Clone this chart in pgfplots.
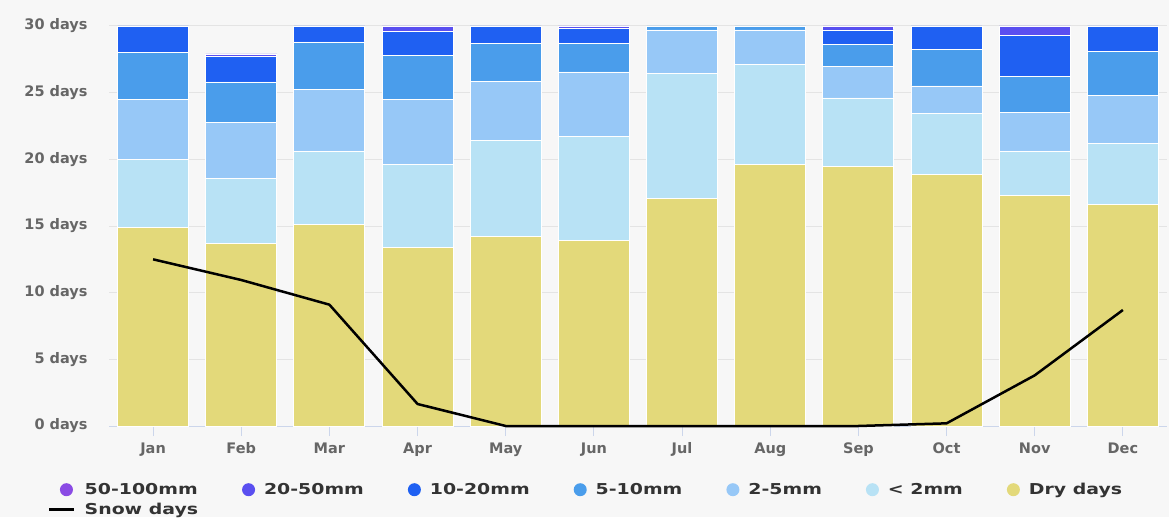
\documentclass[border=0pt]{standalone}
\usepackage{pgfplots}
\usepackage{pgfplotstable}
\pgfplotsset{compat=1.18}
\usepackage{fontspec}
\setmainfont{DejaVu Sans}
\newfontfamily\legfont[FakeStretch=1.26]{DejaVu Sans}

\definecolor{bgc}{HTML}{F7F7F7}
\definecolor{gridc}{HTML}{E4E4E4}
\definecolor{axisc}{HTML}{CCD6EB}
\definecolor{labelc}{HTML}{666666}
\definecolor{legc}{HTML}{333333}
\definecolor{cdry}{HTML}{E3D97A}
\definecolor{clt}{HTML}{B8E2F5}
\definecolor{ctwo}{HTML}{97C8F7}
\definecolor{cfive}{HTML}{4A9DEB}
\definecolor{cten}{HTML}{1F60F2}
\definecolor{ctwenty}{HTML}{5A4FF0}
\definecolor{cfifty}{HTML}{8A4BE4}

% days per month in each precipitation class
\pgfplotstableread{
idx dry   lt2   r25   r510  r1020 r2050 r50100
0   14.9  5.1   4.5   3.5   2.0   0     0
1   13.7  4.9   4.15  3.05  1.9   0.2   0
2   15.15 5.45  4.65  3.55  1.2   0     0
3   13.4  6.2   4.9   3.3   1.8   0.4   0
4   14.25 7.15  4.45  2.85  1.3   0     0
5   13.95 7.8   4.8   2.15  1.1   0.2   0
6   17.1  9.35  3.25  0.3   0     0     0
7   19.6  7.5   2.6   0.3   0     0     0
8   19.5  5.1   2.35  1.65  1.1   0.3   0
9   18.9  4.55  2.05  2.75  1.75  0     0
10  17.3  3.3   2.9   2.7   3.1   0.7   0
11  16.6  4.6   3.6   3.3   1.9   0     0
}\raindays

\pgfplotstableread{
idx snow
0   12.5
1   10.95
2   9.1
3   1.65
4   0
5   0
6   0
7   0
8   0
9   0.2
10  3.8
11  8.7
}\snowdays

\pgfplotsset{
  dotlegend/.style={legend image code/.code={\fill[##1,draw=none] (0pt,0pt) circle (6.5pt);}},
  linelegend/.style={legend image code/.code={\draw[##1] (-17pt,0pt) -- (8pt,0pt);}},
  seg/.style={fill=#1, draw=white, line width=0.9pt, dotlegend},
}

\begin{document}
\begin{tikzpicture}[x=1pt,y=1pt]
\fill[bgc] (0,0) rectangle (1169,517);
\begin{axis}[
  at={(109pt,91pt)}, anchor=south west,
  width=1058pt, height=400pt, scale only axis,
  xmin=-0.5, xmax=11.5, ymin=0, ymax=30,
  ybar stacked, bar width=71pt,
  axis x line=bottom, axis y line=left,
  x axis line style={draw=axisc, line width=1pt, -},
  y axis line style={draw=none},
  xtick={0,...,11},
  xticklabels={Jan,Feb,Mar,Apr,May,Jun,Jul,Aug,Sep,Oct,Nov,Dec},
  ytick={0,5,...,30},
  yticklabels={0 days,5 days,10 days,15 days,20 days,25 days,30 days},
  tick align=outside, major tick length=10pt,
  xtick style={draw=axisc, line width=1pt},
  ytick style={draw=none},
  ymajorgrids, grid style={draw=gridc, line width=1pt},
  ticklabel style={font=\fontsize{14.5}{16}\selectfont\bfseries, text=labelc},
  yticklabel style={xshift=-8pt},
  xticklabel style={yshift=-3pt},
  reverse legend,
  legend columns=7,
  legend style={
    at={(axis description cs:0,0)}, anchor=north west,
    xshift=-61pt, yshift=-57pt,
    draw=none, fill=none, inner sep=0pt,
    font=\legfont\fontsize{15}{18}\selectfont\bfseries, text=legc,
    cells={anchor=west},
    nodes={inner sep=0pt},
    /tikz/every odd column/.append style={column sep=9pt},
    /tikz/every even column/.append style={column sep=44pt},
    row sep=7pt,
  },
]
\addlegendimage{black, line width=2.5pt, linelegend}
\addlegendentry{Snow days}
\addplot[seg=cdry]    table[x=idx, y=dry]    {\raindays}; \addlegendentry{Dry days}
\addplot[seg=clt]     table[x=idx, y=lt2]    {\raindays}; \addlegendentry{< 2mm}
\addplot[seg=ctwo]    table[x=idx, y=r25]    {\raindays}; \addlegendentry{2-5mm}
\addplot[seg=cfive]   table[x=idx, y=r510]   {\raindays}; \addlegendentry{5-10mm}
\addplot[seg=cten]    table[x=idx, y=r1020]  {\raindays}; \addlegendentry{10-20mm}
\addplot[seg=ctwenty] table[x=idx, y=r2050]  {\raindays}; \addlegendentry{20-50mm}
\addplot[seg=cfifty]  table[x=idx, y=r50100] {\raindays}; \addlegendentry{50-100mm}
\end{axis}
% snow days line drawn on top of the bars
\begin{axis}[
  at={(109pt,91pt)}, anchor=south west,
  width=1058pt, height=400pt, scale only axis,
  xmin=-0.5, xmax=11.5, ymin=0, ymax=30,
  hide axis, clip=false,
]
\addplot[black, line width=2.5pt, line join=round] table[x=idx, y=snow] {\snowdays};
\end{axis}
\pgfresetboundingbox
\useasboundingbox (0,0) rectangle (1169,517);
\end{tikzpicture}
\end{document}
